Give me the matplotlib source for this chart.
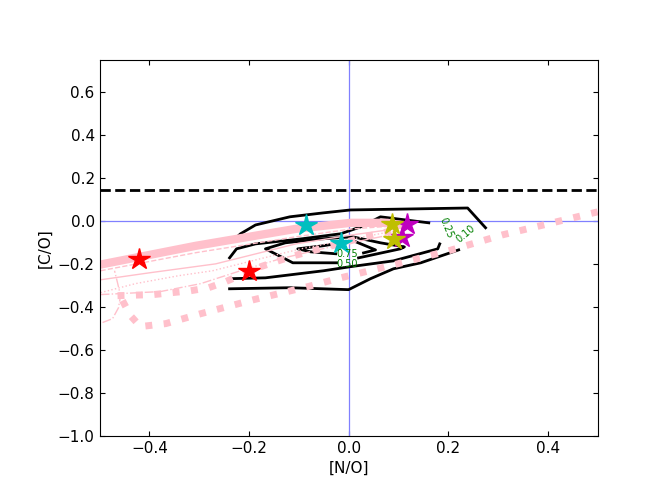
import numpy as np
import matplotlib
matplotlib.use('Agg')
import matplotlib.pyplot as plt

# contour levels of the density map (drawn as traced lines)
c10_top_x = [-0.233, -0.217, -0.187, -0.118, -0.052, 0.004, 0.239, 0.275]
c10_top_y = [-0.093, -0.060, -0.019, 0.019, 0.037, 0.051, 0.060, -0.032]
c10_bot_x = [0.221, 0.145, 0.090, 0.044, 0.000, -0.118, -0.239]
c10_bot_y = [-0.135, -0.195, -0.223, -0.269, -0.320, -0.311, -0.316]
c25_top_x = [-0.239, -0.225, -0.187, -0.096, -0.016, 0.024, 0.064, 0.161]
c25_top_y = [-0.172, -0.130, -0.107, -0.084, -0.060, -0.028, 0.019, -0.009]
c25_bot_x = [0.183, 0.179, 0.165, 0.090, 0.004, -0.050, -0.167, -0.239]
c25_bot_y = [-0.107, -0.130, -0.139, -0.186, -0.213, -0.232, -0.265, -0.269]
c50_x = [0.020, 0.104, 0.112, 0.064, 0.008, -0.056, -0.127, -0.167, -0.112, -0.024]
c50_y = [-0.172, -0.130, -0.121, -0.102, -0.074, -0.084, -0.102, -0.130, -0.195, -0.195]
c75_x = [-0.026, -0.076, -0.102, -0.052, 0.010, 0.054, 0.030]
c75_y = [-0.153, -0.144, -0.130, -0.116, -0.093, -0.135, -0.149]

# contour labels: text, x, y, rotation
clab_text = ['0.75', '0.50', '0.25', '0.10']
clab_x = [-0.002, -0.002, 0.196, 0.236]
clab_y = [-0.156, -0.199, -0.032, -0.062]
clab_rot = [0, 0, -68, 40]

# model tracks (pink)
band_x = [-0.51, -0.5, -0.307, -0.106, 0.004, 0.078, 0.104]
band_y = [-0.208, -0.204, -0.116, -0.037, -0.009, -0.009, -0.019]
solid_x = [-0.498, -0.398, -0.267, -0.106, 0.008, 0.094]
solid_y = [-0.274, -0.241, -0.200, -0.107, -0.065, -0.037]
dash_x = [-0.498, -0.307, -0.106, 0.008, 0.094]
dash_y = [-0.232, -0.148, -0.074, -0.037, -0.023]
dot_x = [-0.498, -0.428, -0.341, -0.273, -0.177, -0.096, 0.008, 0.094]
dot_y = [-0.334, -0.292, -0.255, -0.232, -0.176, -0.130, -0.084, -0.046]
dd_x = [-0.498, -0.378, -0.297, -0.217, -0.137, -0.036, 0.094]
dd_y = [-0.343, -0.329, -0.292, -0.232, -0.176, -0.121, -0.060]
hook_x = [-0.494, -0.474, -0.462, -0.458, -0.464, -0.470]
hook_y = [-0.473, -0.455, -0.404, -0.348, -0.288, -0.232]
bigdotA_x = [-0.454, -0.438, -0.418, -0.367, -0.297, -0.191, -0.082, -0.016, 0.098, 0.201, 0.309, 0.450, 0.500]
bigdotA_y = [-0.371, -0.441, -0.492, -0.478, -0.432, -0.367, -0.306, -0.265, -0.200, -0.139, -0.065, 0.014, 0.042]
bigdotB_x = [-0.464, -0.392, -0.317, -0.281, -0.247, -0.183, -0.110, -0.042, 0.034, 0.094]
bigdotB_y = [-0.348, -0.343, -0.325, -0.311, -0.283, -0.218, -0.162, -0.121, -0.074, -0.042]

# observed objects
red_x = [-0.421, -0.199]
red_y = [-0.178, -0.232]
cyan_x = [-0.086, -0.015]
cyan_y = [-0.019, -0.101]
mag_x = [0.118, 0.108]
mag_y = [-0.013, -0.077]
oli_x = [0.088, 0.091]
oli_y = [-0.013, -0.085]

solar_co = 0.146

plt.rcParams['font.size'] = 11
fig = plt.figure(figsize=(6.64, 4.98), dpi=100)
ax = fig.add_subplot(111)
fig.subplots_adjust(left=0.15, right=0.9, bottom=0.125, top=0.88)

ax.axhline(0, color='#8080ff', lw=0.9)
ax.axvline(0, color='#8080ff', lw=0.9)
ax.axhline(solar_co, color='k', ls='--', lw=2)

for xs, ys in [(c10_top_x, c10_top_y), (c10_bot_x, c10_bot_y),
               (c25_top_x, c25_top_y), (c25_bot_x, c25_bot_y),
               (c50_x, c50_y), (c75_x, c75_y)]:
    ax.plot(xs, ys, color='k', lw=2)
for t, x, y, r in zip(clab_text, clab_x, clab_y, clab_rot):
    ax.text(x, y, t, color='g', fontsize=7, rotation=r, ha='center', va='center')

ax.plot(band_x, band_y, color='pink', lw=6)
ax.plot(solid_x, solid_y, color='pink', lw=1)
ax.plot(dash_x, dash_y, color='pink', lw=1, ls='--')
ax.plot(dot_x, dot_y, color='pink', lw=1, ls=':')
ax.plot(dd_x, dd_y, color='pink', lw=1, ls='-.')
ax.plot(hook_x, hook_y, color='pink', lw=1, ls='-.')
ax.plot(bigdotA_x, bigdotA_y, color='pink', lw=5, ls=':')
ax.plot(bigdotB_x, bigdotB_y, color='pink', lw=5, ls=':')

ax.plot(red_x, red_y, 'r*', ms=16, ls='none')
ax.plot(cyan_x, cyan_y, 'c*', ms=16, ls='none')
ax.plot(mag_x, mag_y, 'm*', ms=16, ls='none')
ax.plot(oli_x, oli_y, 'y*', ms=16, ls='none')

ax.set_xlim(-0.5, 0.5)
ax.set_ylim(-1.0, 0.75)
ax.set_xticks([-0.4, -0.2, 0.0, 0.2, 0.4])
ax.set_yticks(np.arange(-1.0, 0.61, 0.2))
ax.tick_params(direction='in', top=True, right=True)
ax.set_xlabel('[N/O]')
ax.set_ylabel('[C/O]')

plt.savefig('out.png', dpi=100)
